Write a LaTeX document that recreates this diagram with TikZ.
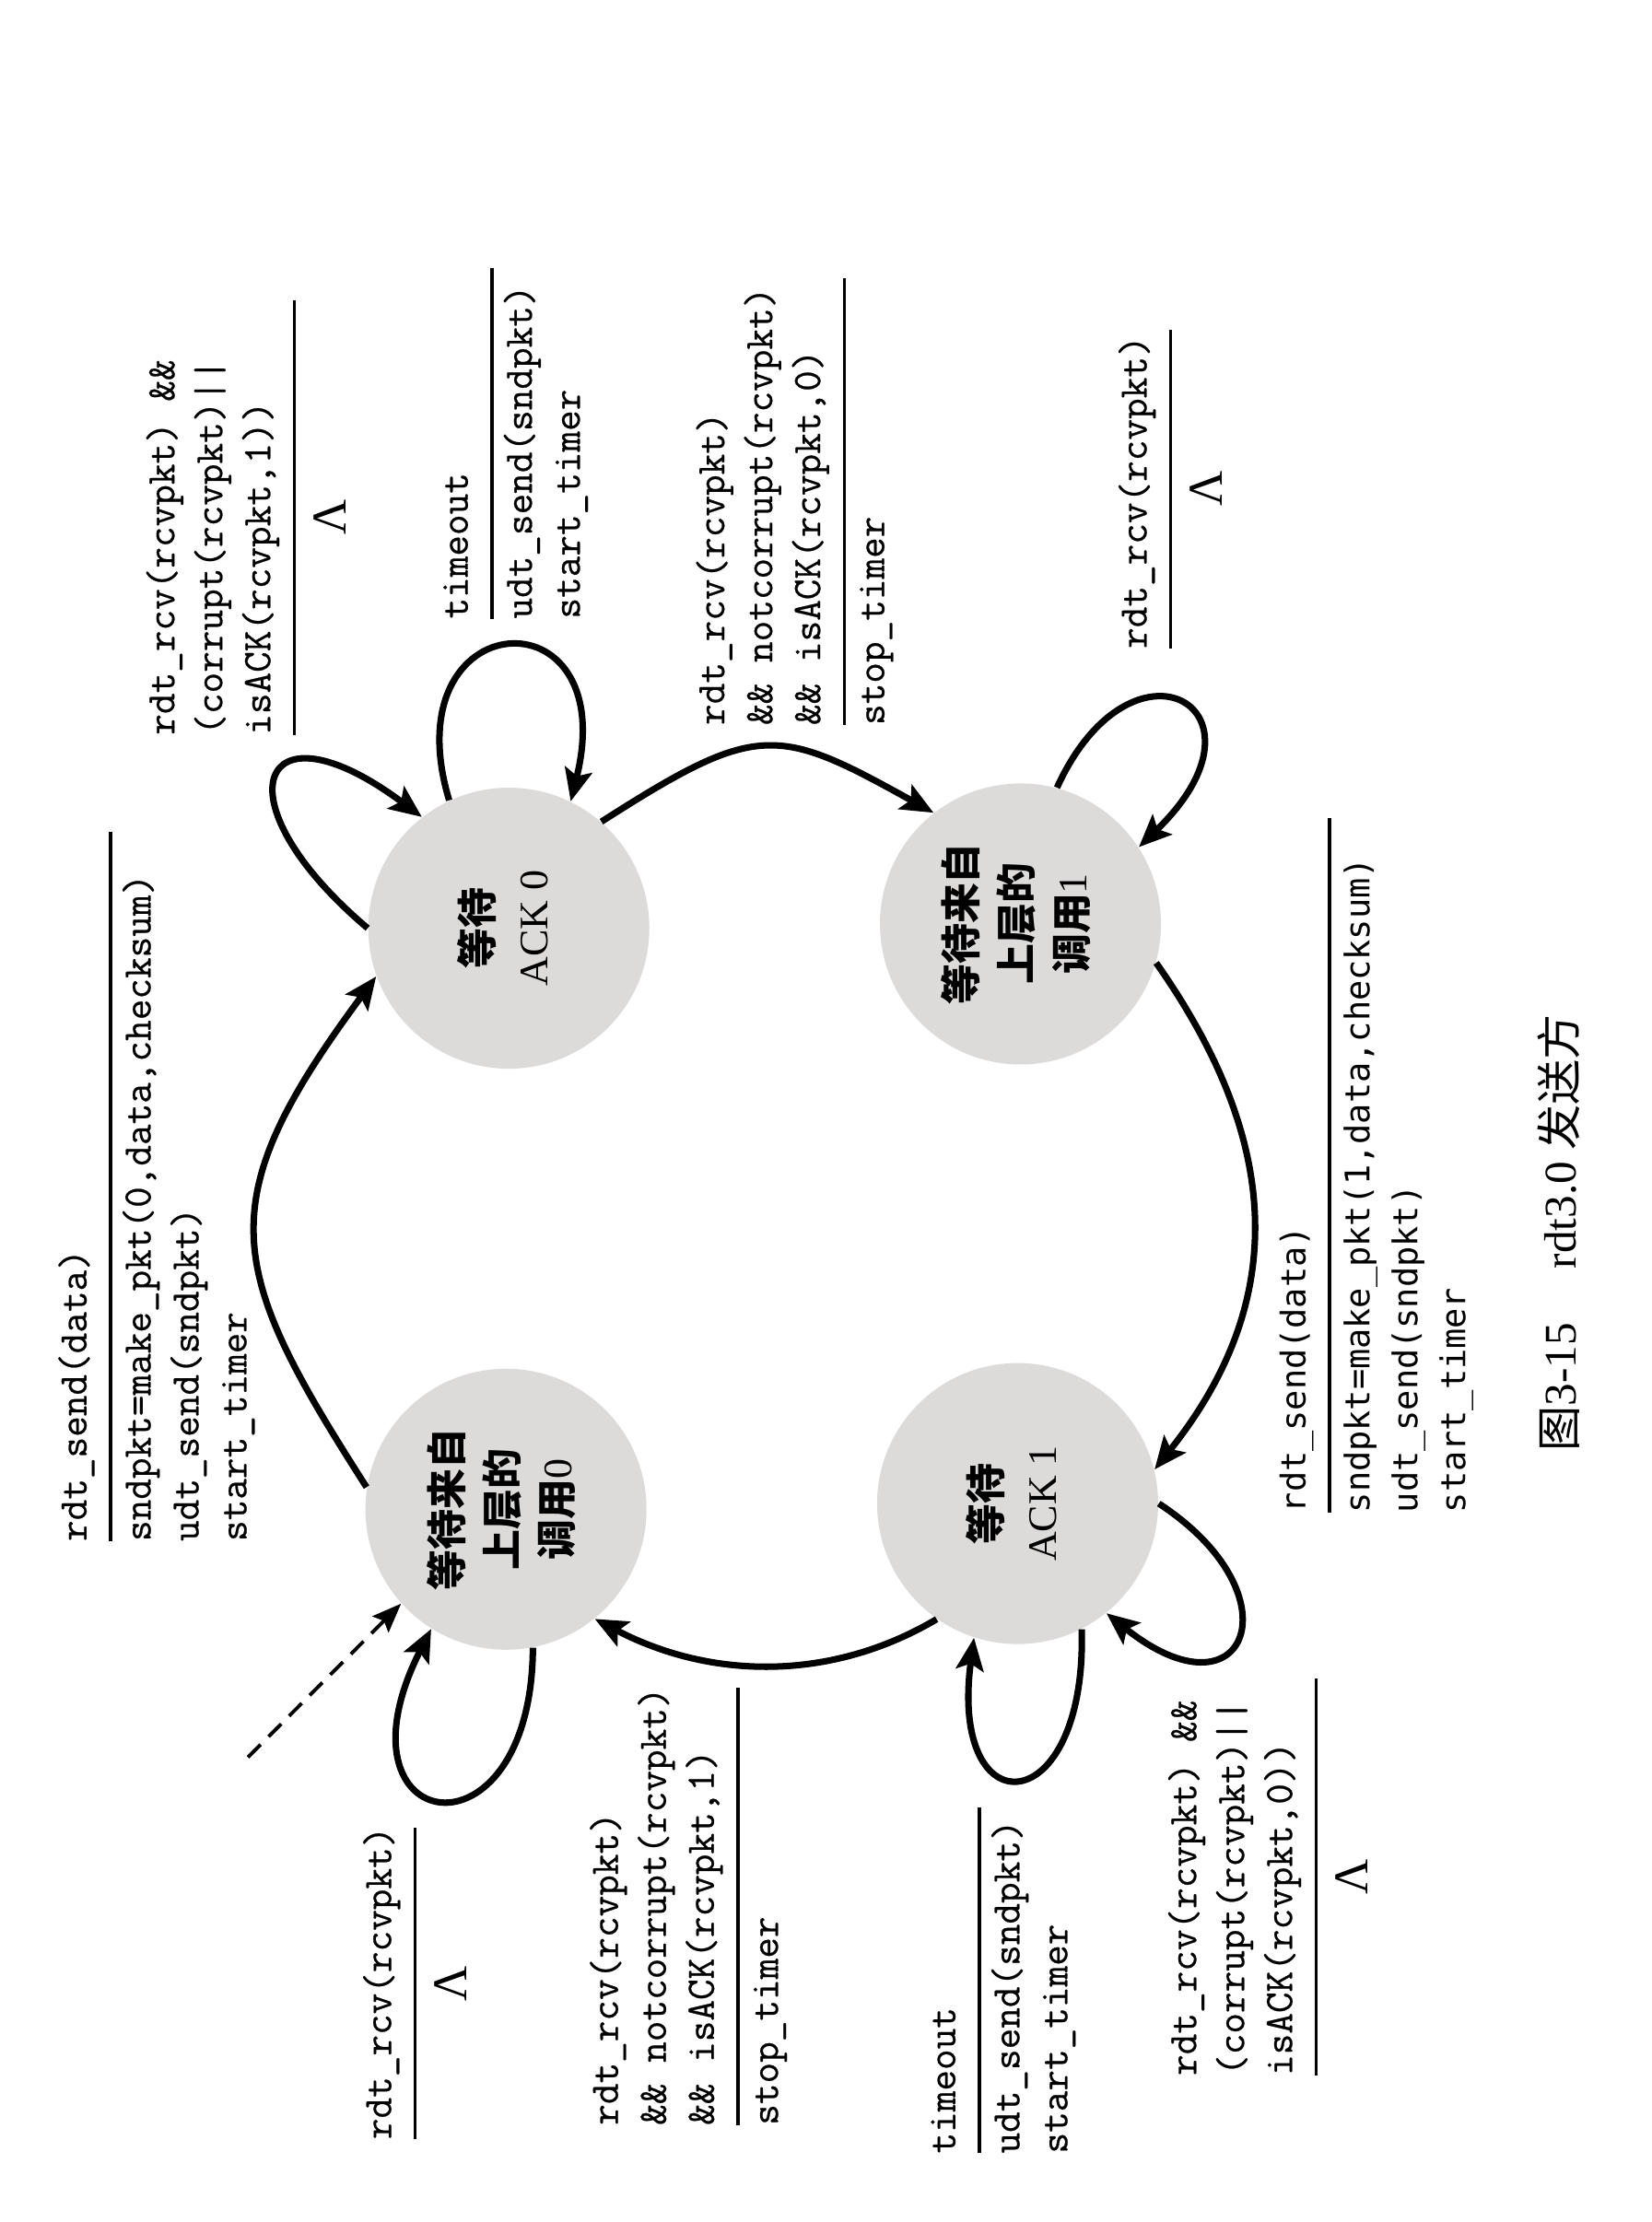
\documentclass[tikz,border=0pt]{standalone}
\usepackage{fontspec}
\setmainfont{Liberation Serif}
\setmonofont{lmmono12-regular.otf}[FakeBold=0.5]
\newfontfamily\sansmono{DejaVu Sans Mono}
\newfontfamily\cjk{Noto Sans CJK SC}
\usetikzlibrary{arrows.meta}
\definecolor{stategray}{RGB}{221,218,218}

% event / action label: upper lines, rule of given width, lower lines
\newcommand\trans[3]{\begin{tabular}[t]{@{}l@{}}#1\\[2.5pt]\noalign{\hrule width #2 height 1pt\vskip 1.5pt}#3\end{tabular}}
\newcommand\lam{{\rmfamily\fontsize{15}{15}\selectfont Λ}}
\newcommand\translam[2]{\trans{#1}{#2}{\rule{0pt}{14pt}\makebox[#2]{\lam}}}
\newcommand\statetext[1]{\rotatebox{90}{\begin{tabular}{@{}c@{}}#1\end{tabular}}}

\begin{document}
\begin{tikzpicture}[x=0.015382cm,y=-0.015382cm,
  state/.style={circle, fill=stategray, minimum size=3.05cm, inner sep=0pt,
    font=\fontsize{12.5}{17}\selectfont},
  lbl/.style={rotate=90, anchor=base west, inner sep=0pt,
    font=\fontsize{12.5}{14.8}\selectfont\ttfamily},
  tr/.style={line width=2pt, -{Stealth[length=10pt,width=8.5pt,inset=2pt]}},
  initarrow/.style={line width=1.1pt, dash pattern=on 5.5pt off 3.5pt,
    -{Stealth[length=9pt,width=7pt,inset=1.5pt]}}]

\path[use as bounding box] (0,0) rectangle (1165,1568);

% states
\node[state] (ack0)  at (359,655)  {\statetext{{\cjk\bfseries 等待}\\ACK 0}};
\node[state] (wait1) at (720,652)  {\statetext{{\cjk\bfseries 等待来自}\\{\cjk\bfseries 上层的}\\{\cjk\bfseries 调用}1}};
\node[state] (wait0) at (357,1065) {\statetext{{\cjk\bfseries 等待来自}\\{\cjk\bfseries 上层的}\\{\cjk\bfseries 调用}0}};
\node[state] (ack1)  at (718,1061) {\statetext{{\cjk\bfseries 等待}\\ACK 1}};

% transitions between states
\draw[tr] (wait0.171) .. controls (159,894) and (147,849) .. (ack0.200);
\draw[tr] (ack0.49) .. controls (535,509) and (548,512) .. (wait1.128);
\draw[tr] (wait1.344) .. controls (902,802) and (912,915) .. (ack1.14);
\draw[tr] (ack1.235) .. controls (586,1187) and (501,1185) .. (wait0.309);

% self loops
\draw[tr] (ack0.180) .. controls (152,564) and (183,491) .. (ack0.128);
\draw[tr] (ack0.115) .. controls (275,425) and (440,415) .. (ack0.64);
\draw[tr] (wait1.75) .. controls (799,439) and (905,500) .. (wait1.33);
\draw[tr] (wait0.281) .. controls (375,1320) and (230,1296) .. (wait0.238);
\draw[tr] (ack1.297) .. controls (767,1286) and (669,1292) .. (ack1.252);
\draw[tr] (ack1.0) .. controls (917,1126) and (879,1217) .. (ack1.309);

% initial state
\coordinate (init) at (175,1240);
\draw[initarrow] (init) -- (wait0.222);

% labels
\node[lbl] (send0) at (61,1088) {\trans{rdt\_send(data)}{7.7cm}{sndpkt=make\_pkt(0,data,checksum)\\udt\_send(sndpkt)\\start\_timer}};
\node[lbl] (corrupt0) at (123,519) {\translam{rdt\_rcv(rcvpkt) \&\&\\(corrupt(rcvpkt)||\\isACK(rcvpkt,1))}{4.72cm}};
\node[lbl] (timeout0) at (330,437) {\trans{timeout}{3.8cm}{udt\_send(sndpkt)\\start\_timer}};
\node[lbl] (ackok0) at (511,512) {\trans{rdt\_rcv(rcvpkt)\\\&\& notcorrupt(rcvpkt)\\\&\& isACK(rcvpkt,0)}{4.85cm}{stop\_timer}};
\node[lbl] (rcv1) at (809,458) {\translam{rdt\_rcv(rcvpkt)}{3.46cm}};
\node[lbl, font=\fontsize{10.5}{14.8}\selectfont\sansmono] (send1) at (921,1068)
  {\trans{rdt\_send(data)}{7.54cm}{sndpkt=make\_pkt(1,data,checksum)\\udt\_send(sndpkt)\\start\_timer}};
\node[lbl] (rcv0) at (276,1510) {\translam{rdt\_rcv(rcvpkt)}{3.38cm}};
\node[lbl] (ackok1) at (436,1500) {\trans{rdt\_rcv(rcvpkt)\\\&\& notcorrupt(rcvpkt)\\\&\& isACK(rcvpkt,1)}{4.75cm}{stop\_timer}};
\node[lbl] (timeout1) at (674,1520) {\trans{timeout}{3.75cm}{udt\_send(sndpkt)\\start\_timer}};
\node[lbl] (corrupt1) at (844,1465) {\translam{rdt\_rcv(rcvpkt) \&\&\\(corrupt(rcvpkt)||\\isACK(rcvpkt,0))}{4.31cm}};

% caption
\node[rotate=90, inner sep=0pt, font=\fontsize{14}{14}\selectfont] (caption) at (1100,870)
  {{\cjk 图}3-15\hspace{1.2em}rdt3.0 {\cjk 发送方}};
\end{tikzpicture}
\end{document}
